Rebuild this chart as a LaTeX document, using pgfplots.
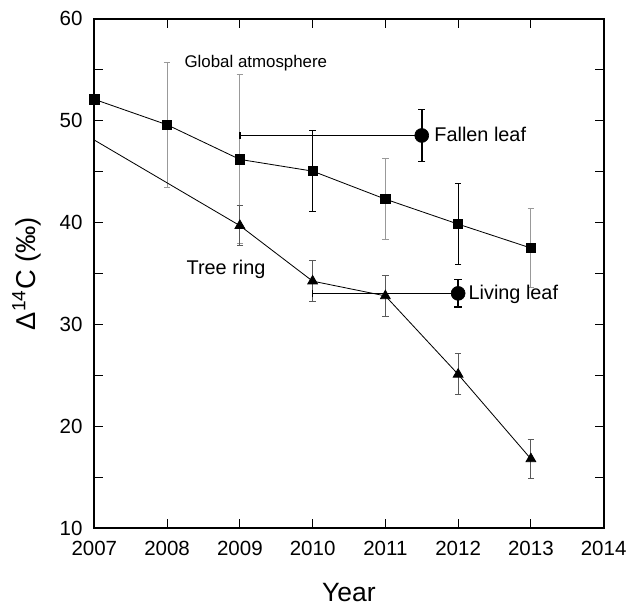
\documentclass[border=0pt]{standalone}
\usepackage{fontspec}
\setmainfont{Liberation Sans}
\usepackage{pgfplots}
\pgfplotsset{compat=1.18}
\begin{document}
\begin{tikzpicture}
\begin{axis}[
  scale only axis, width=307.8pt, height=307.8pt,
  xmin=2007, xmax=2014, ymin=10, ymax=60,
  xtick={2007,2008,...,2014}, ytick={10,20,...,60},
  minor ytick={15,25,...,55},
  tick align=inside, tick pos=both,
  major tick length=5.4pt, minor tick length=5.4pt,
  every tick/.style={black, line width=0.6pt},
  axis line style={line width=1.2pt},
  clip=false,
  /pgf/number format/assume math mode=true,
  /pgf/number format/1000 sep={},
  ticklabel style={font=\fontsize{12.4}{13}\selectfont},
  xticklabel shift=4.5pt, yticklabel shift=3.6pt,
  xlabel={Year}, ylabel={Δ\textsuperscript{14}C (‰)},
  xlabel style={font=\fontsize{16}{18}\selectfont, at={(axis description cs:0.5,-0.1267)}, anchor=center},
  ylabel style={font=\fontsize{16.5}{18}\selectfont, at={(axis description cs:-0.1325,0.5)}, anchor=center},
]
% invisible bounding box
\path (rel axis cs:-0.1852,-0.1481) rectangle (rel axis cs:1.0468,1.037);
% gray error bars (global atmosphere)
\addplot[draw=none, forget plot, error bars/.cd, y dir=both, y explicit,
  error bar style={draw=black!40, line width=0.6pt},
  error mark options={rotate=90, draw=black!40, mark size=2pt, line width=0.6pt}]
  coordinates {(2008,49.6) +- (0,6.15) (2009,46.2) +- (0,8.3) (2011,42.3) +- (0,4.0) (2013,37.5) +- (0,3.9)};
% black error bars (global atmosphere)
\addplot[draw=none, forget plot, error bars/.cd, y dir=both, y explicit,
  error bar style={draw=black, line width=0.6pt},
  error mark options={rotate=90, draw=black, mark size=2pt, line width=0.6pt}]
  coordinates {(2010,45.05) +- (0,4.0) (2012,39.85) +- (0,4.0)};
% tree ring error bars
\addplot[draw=none, forget plot, error bars/.cd, y dir=both, y explicit,
  error bar style={draw=black!65, line width=0.6pt},
  error mark options={rotate=90, draw=black!65, mark size=2pt, line width=0.6pt}]
  coordinates {(2009,39.7) +- (0,1.95) (2010,34.25) +- (0,2.0) (2011,32.8) +- (0,2.0) (2012,25.1) +- (0,2.0) (2013,16.8) +- (0,1.95)};
% global atmosphere
\addplot[black, line width=0.5pt, mark=square*, mark size=2.8pt]
  coordinates {(2007,52.1) (2008,49.6) (2009,46.2) (2010,45.05) (2011,42.3) (2012,39.85) (2013,37.5)};
% tree ring
\addplot[black, line width=0.5pt, mark=triangle*, mark size=3.4pt, mark indices={2,3,4,5,6}]
  coordinates {(2007,48.1) (2009,39.7) (2010,34.25) (2011,32.8) (2012,25.1) (2013,16.8)};
% fallen leaf
\addplot[black, only marks, mark=*, mark size=4.2pt, error bars/.cd, x dir=minus, x explicit, y dir=both, y explicit,
  error bar style={draw=black, line width=1pt},
  error mark options={rotate=90, draw=black, mark size=2.2pt, line width=1pt}]
  coordinates {(2011.5,48.55) +- (2.5,2.55)};
% living leaf
\addplot[black, only marks, mark=*, mark size=4.2pt, error bars/.cd, x dir=minus, x explicit, y dir=both, y explicit,
  error bar style={draw=black, line width=1pt},
  error mark options={rotate=90, draw=black, mark size=2.2pt, line width=1pt}]
  coordinates {(2012,33.05) +- (2,1.35)};
\node[anchor=base, inner sep=0pt, font=\fontsize{10.2}{12}\selectfont] at (axis cs:2009.22,55.27) {Global atmosphere};
\node[anchor=base, inner sep=0pt, font=\fontsize{12}{14}\selectfont] at (axis cs:2008.81,34.88) {Tree ring};
\node[anchor=base west, inner sep=0pt, font=\fontsize{12}{14}\selectfont] at (axis cs:2011.67,47.95) {Fallen leaf};
\node[anchor=base west, inner sep=0pt, font=\fontsize{12}{14}\selectfont] at (axis cs:2012.14,32.44) {Living leaf};
\end{axis}
\end{tikzpicture}
\end{document}
